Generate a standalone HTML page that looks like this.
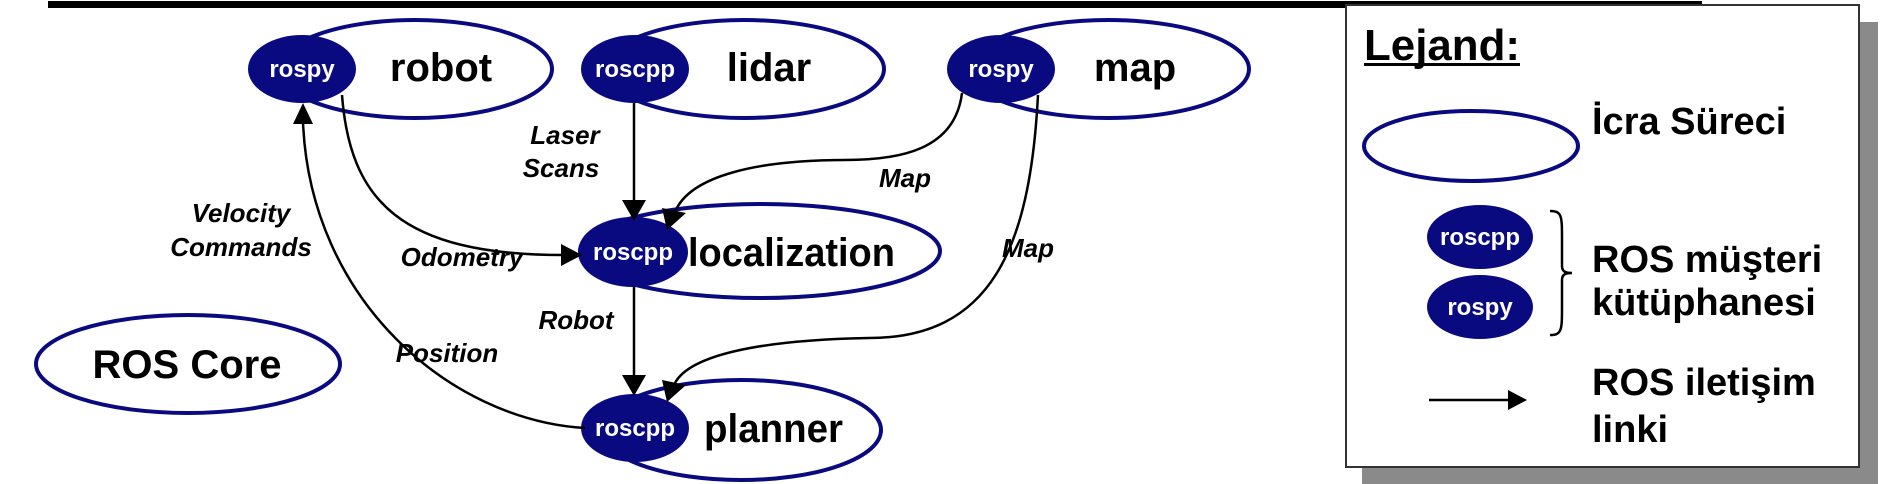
<!DOCTYPE html>
<html><head><meta charset="utf-8"><style>
html,body{margin:0;padding:0;background:#fff;}
svg{display:block;}
text{font-family:"Liberation Sans",Arial,sans-serif;font-weight:bold;}
.n{font-size:40px;fill:#000;}
.w{font-size:24px;fill:#fff;}
.l{font-size:26px;font-style:italic;fill:#000;}
.g{font-size:40px;fill:#000;}
</style></head><body>
<svg width="1888" height="484" viewBox="0 0 1888 484" xmlns="http://www.w3.org/2000/svg">
<!-- top line -->
<rect x="48" y="1" width="1654" height="7" fill="#000"/>
<!-- legend box -->
<rect x="1362" y="22" width="516" height="462" fill="#8a8a8a"/>
<rect x="1346" y="5" width="513" height="462" fill="#fff" stroke="#333" stroke-width="2"/>

<g fill="#fff" stroke="#0a0a80" stroke-width="4">
<ellipse cx="415" cy="69" rx="137" ry="49"/>
<ellipse cx="744" cy="69" rx="140" ry="49"/>
<ellipse cx="1108" cy="69" rx="141" ry="49"/>
<ellipse cx="760" cy="251" rx="180" ry="47"/>
<ellipse cx="741" cy="430" rx="140" ry="50"/>
<ellipse cx="188" cy="364" rx="152" ry="49"/>
<ellipse cx="1471" cy="146" rx="107" ry="35"/>
</g>
<g fill="#0a0a80">
<ellipse cx="302" cy="69" rx="54" ry="34"/>
<ellipse cx="635" cy="69" rx="54" ry="34"/>
<ellipse cx="1001" cy="69" rx="54" ry="34"/>
<ellipse cx="633" cy="252" rx="55" ry="35"/>
<ellipse cx="635" cy="428" rx="54" ry="34"/>
<ellipse cx="1480" cy="237" rx="53" ry="32"/>
<ellipse cx="1480" cy="307" rx="53" ry="32"/>
</g>
<g class="w" text-anchor="middle">
<text x="302" y="77">rospy</text>
<text x="635" y="77">roscpp</text>
<text x="1001" y="77">rospy</text>
<text x="633" y="260">roscpp</text>
<text x="635" y="436">roscpp</text>
<text x="1480" y="245">roscpp</text>
<text x="1480" y="315">rospy</text>
</g>
<g class="n">
<text x="441" y="81" text-anchor="middle">robot</text>
<text x="769" y="81" text-anchor="middle">lidar</text>
<text x="1135" y="81" text-anchor="middle">map</text>
<text x="688" y="266" textLength="207" lengthAdjust="spacingAndGlyphs">localization</text>
<text x="704" y="442" textLength="139" lengthAdjust="spacingAndGlyphs">planner</text>
<text x="187" y="378" text-anchor="middle">ROS Core</text>
</g>

<!-- connectors -->
<g fill="none" stroke="#000" stroke-width="2.5">
<path d="M634 103 L634 203"/>
<path d="M634 287 L634 378"/>
<path d="M342 95 C350 200 400 255 563 255"/>
<path d="M962 93 C955 150 900 160 845 160 C760 160 690 175 675 212"/>
<path d="M1038 95 C1030 250 990 338 869 338 C760 340 690 355 675 383"/>
<path d="M585 428 C450 420 310 300 303 122"/>
<path d="M1429 400 L1510 400"/>
<path d="M1550 211 C1562 211 1562 216 1562 240 L1562 266 C1562 272 1566 273 1572 273 C1566 273 1562 274 1562 280 L1562 306 C1562 330 1562 335 1550 335"/>
</g>
<g fill="#000">
<polygon points="622,200 646,200 634,221"/>
<polygon points="622,375 646,375 634,396"/>
<polygon points="561,244 561,266 582,255"/>
<polygon points="662,208 686,213 667,230"/>
<polygon points="662,380 686,385 667,402"/>
<polygon points="293,124 313,124 303,103"/>
<polygon points="1508,390 1508,410 1527,400"/>
</g>

<g class="l" text-anchor="middle">
<text x="565" y="144">Laser</text>
<text x="561" y="177">Scans</text>
<text x="905" y="187">Map</text>
<text x="241" y="222">Velocity</text>
<text x="241" y="256">Commands</text>
<text x="462" y="266">Odometry</text>
<text x="1028" y="257">Map</text>
<text x="576" y="329">Robot</text>
<text x="447" y="362">Position</text>
</g>

<!-- legend text -->
<text x="1364" y="60" font-size="44" textLength="156" lengthAdjust="spacingAndGlyphs">Lejand:</text>
<rect x="1364" y="63" width="156" height="3" fill="#000"/>
<g class="g">
<text x="1592" y="134" font-size="38">İcra Süreci</text>
<text x="1592" y="272" font-size="38">ROS müşteri</text>
<text x="1592" y="315" font-size="38">kütüphanesi</text>
<text x="1592" y="395" font-size="38">ROS iletişim</text>
<text x="1592" y="442" font-size="38">linki</text>
</g>
</svg>
</body></html>
